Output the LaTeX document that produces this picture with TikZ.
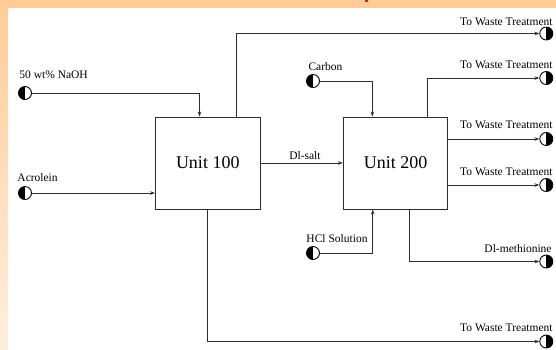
\documentclass[tikz,border=0pt]{standalone}
\usepackage{fontspec}
\setmainfont{Liberation Serif}
\usetikzlibrary{arrows.meta}
\definecolor{peach}{RGB}{255,204,153}
\definecolor{peachlight}{RGB}{255,238,222}
\definecolor{linegray}{RGB}{45,45,45}
\begin{document}
\begin{tikzpicture}[x=1pt, y=-1pt, ->, >={Stealth[length=5pt,width=3.6pt]},
  line width=0.9pt, draw=linegray,
  unit/.style={draw, -, minimum width=104.5pt, minimum height=92pt, inner sep=0pt, font=\fontsize{18}{20}\selectfont},
  feed/.style={circle, draw=black, -, minimum size=13pt, inner sep=0pt,
    path picture={\fill (path picture bounding box.north) rectangle (path picture bounding box.south west);}},
  product/.style={circle, draw=black, -, minimum size=13pt, inner sep=0pt,
    path picture={\fill (path picture bounding box.north) rectangle (path picture bounding box.south east);}},
  lbl/.style={font=\fontsize{11.5}{13}\selectfont, inner sep=0pt}]

% frame
\useasboundingbox (0,0) rectangle (556,349);
\fill[white] (0,0) rectangle (556,349);
\fill[peach] (0,0) rectangle (556,8.3);
\shade[top color=peach, bottom color=peachlight, draw=none] (0,0) rectangle (7.7,349);
\fill[red!85!orange] (364.5,0) rectangle (367.5,1.5);

% units
\node[unit] at (207.75,163) (u1) {Unit 100};
\node[unit] at (395.5,163) (u2) {Unit 200};

% feeds
\node[feed] at (25,93) (naoh) {};
\node[lbl, anchor=west] at (19,75) (naohl) {50 wt\% NaOH};
\node[feed] at (25,193) (acro) {};
\node[lbl, anchor=west] at (17,178) (acrol) {Acrolein};
\node[feed] at (313,81) (carb) {};
\node[lbl] at (325.5,67) (carbl) {Carbon};
\node[feed] at (313,253) (hcl) {};
\node[lbl] at (337,239) (hcll) {HCl Solution};

% products
\node[product] at (546.3,33.5) (w1) {};
\node[lbl, anchor=east] at (553,21.5) (w1l) {To Waste Treatment};
\node[product] at (546.3,78) (w2) {};
\node[lbl, anchor=east] at (553,65) (w2l) {To Waste Treatment};
\node[product] at (546.3,139) (w3) {};
\node[lbl, anchor=east] at (553,125) (w3l) {To Waste Treatment};
\node[product] at (546.3,185) (w4) {};
\node[lbl, anchor=east] at (553,172) (w4l) {To Waste Treatment};
\node[product] at (546.3,261.5) (meth) {};
\node[lbl, anchor=east] at (552,249) (methl) {Dl-methionine};
\node[product] at (546.3,341.5) (w5) {};
\node[lbl, anchor=east] at (553,328) (w5l) {To Waste Treatment};

% streams into unit 100
\draw (naoh.east) -| ([xshift=44.5pt]u1.north west);
\draw (acro.east) -- (acro.east -| u1.west);
\draw (u1.east) -- node[lbl, above=3pt, pos=0.54] {Dl-salt} (u2.west);
\draw ([xshift=81pt]u1.north west) |- (w1.west);
\draw ([xshift=52.5pt]u1.south west) |- (w5.west);

% streams of unit 200
\draw (carb.east) -| ([xshift=29.5pt]u2.north west);
\draw (hcl.east) -| ([xshift=30pt]u2.south west);
\draw ([xshift=85pt]u2.north west) |- (w2.west);
\draw (w3.west -| u2.east) -- (w3.west);
\draw (w4.west -| u2.east) -- (w4.west);
\draw ([xshift=67pt]u2.south west) |- (meth.west);

\end{tikzpicture}
\end{document}
